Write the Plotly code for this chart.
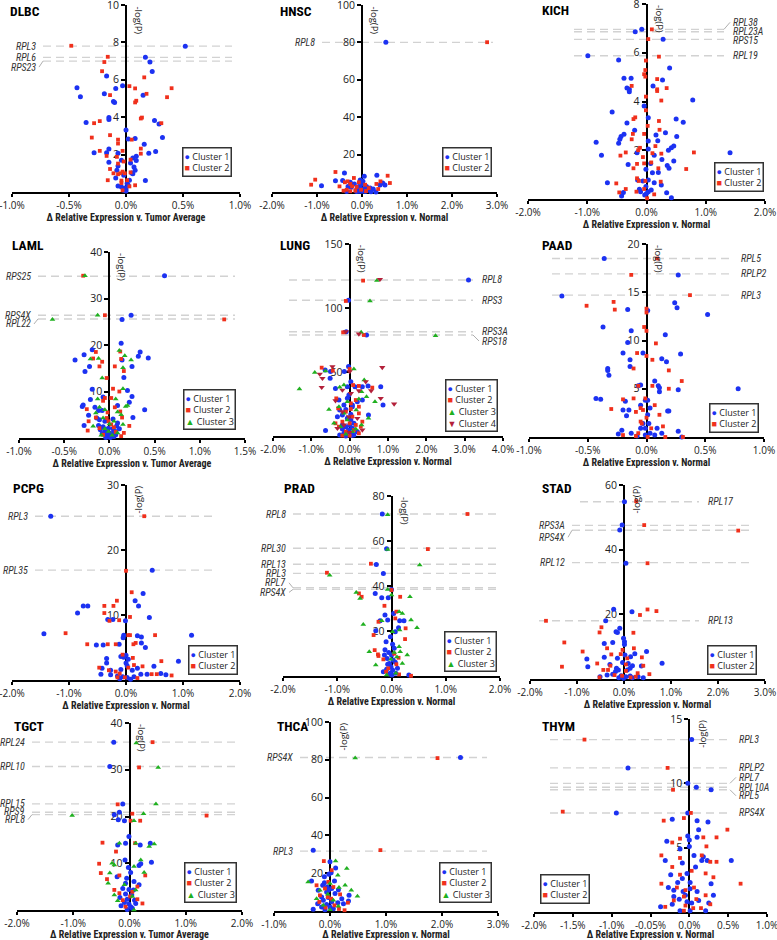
import plotly.graph_objects as go

W, H = 777, 940

# ---- data: (Δ relative expression in %, -log(P)) for every gene, per cluster ----
DLBC_C1 = [(0.52, 7.8), (0.17, 7.2), (0.21, 6.95), (0.23, 6.45), (-0.17, 6.2), (-0.43, 5.57), (-0.03, 5.68),
           (-0.09, 5.54), (-0.40, 5.1), (-0.19, 5.25), (0.15, 5.18), (-0.11, 4.84), (-0.10, 4.79), (-0.35, 3.71),
           (-0.15, 3.98), (-0.15, 3.88), (0.25, 3.82), (0.29, 3.64), (0.0, 3.32), (0.32, 2.91), (0.02, 2.84),
           (0.08, 2.86), (0.16, 2.55), (-0.15, 2.3), (-0.28, 2.1), (-0.17, 2.1), (0.20, 2.07), (0.26, 2.16),
           (-0.07, 2.07), (0.06, 1.82), (0.09, 1.91), (-0.15, 1.59), (0.04, 1.55), (0.09, 1.68), (-0.04, 1.7),
           (-0.07, 1.39), (0.07, 1.34), (0.08, 1.16), (0.05, 1.02), (-0.02, 0.89), (0.17, 0.61), (-0.09, 0.75),
           (0.01, 0.46), (-0.07, 0.32), (-0.04, 0.27), (-0.01, 0.21), (0.0, 0.16), (-0.02, 0.09), (0.02, 0.36),
           (0.03, 0.63), (0.06, 0.98), (-0.08, 1.16), (0.0, 0.05)]
DLBC_C2 = [(-0.48, 7.82), (-0.16, 7.23), (-0.19, 6.95), (-0.21, 6.46), (0.16, 6.13), (0.03, 5.66), (0.08, 5.54),
           (0.40, 5.55), (0.18, 5.25), (-0.14, 5.18), (0.36, 5.07), (0.09, 4.88), (0.08, 4.79), (0.14, 3.98),
           (0.13, 3.93), (-0.28, 3.68), (-0.23, 3.79), (0.31, 3.68), (-0.30, 2.91), (-0.14, 3.04), (-0.07, 2.8),
           (0.05, 2.8), (-0.07, 2.59), (0.13, 2.32), (-0.23, 2.2), (-0.03, 2.2), (-0.17, 1.93), (-0.08, 1.88),
           (0.13, 2.05), (0.04, 1.73), (-0.02, 1.63), (-0.07, 1.52), (-0.14, 1.23), (-0.03, 1.09), (-0.11, 1.0),
           (-0.07, 0.95), (-0.05, 1.0), (-0.01, 1.0), (0.04, 1.05), (-0.16, 0.63), (-0.04, 0.61), (0.08, 0.36),
           (-0.04, 0.48), (0.01, 0.63), (0.03, 0.3), (-0.03, 0.09)]

HNSC_C1 = [(0.53, 80.1), (-0.90, 3.4), (-0.59, 6.0), (-0.43, 6.2), (-0.39, 10.1), (-0.26, 5.2), (-0.23, 3.9),
           (-0.31, 3.0), (-0.17, 4.3), (-0.12, 1.2), (-0.07, 3.0), (-0.04, 6.4), (-0.03, 5.2), (0.01, 4.3),
           (0.05, 8.4), (0.06, 2.0), (0.10, 3.0), (0.18, 2.1), (0.25, 1.6), (0.33, 8.9), (0.40, 3.7), (0.46, 4.8),
           (0.51, 3.7), (0.31, 0.0), (0.03, 1.2), (-0.06, 0.4), (0.0, 0.4), (-0.12, 0.3), (0.07, 0.3), (-0.04, 2.1),
           (0.12, 0.9), (-0.34, 0.3), (-0.24, 2.5), (0.20, 0.2), (0.02, 5.7)]
HNSC_C2 = [(2.78, 80.1), (-1.13, 3.9), (-1.04, 6.6), (-0.59, 10.7), (-0.38, 5.2), (-0.32, 5.7), (-0.26, 4.3),
           (-0.50, 3.0), (-0.18, 7.5), (-0.22, 3.0), (-0.34, 1.2), (-0.12, 2.7), (-0.07, 5.2), (0.07, 3.9),
           (0.15, 2.1), (0.32, 4.3), (0.36, 1.6), (0.57, 8.7), (0.62, 4.8), (0.41, 5.7), (-0.02, 1.2), (-0.26, 0.4),
           (-0.41, 0.7), (-0.15, 0.7), (0.09, 0.5)]

KICH_C1 = [(-0.19, 6.86), (-0.08, 6.96), (0.28, 6.55), (-0.99, 5.88), (-0.47, 5.7), (0.39, 5.37), (-0.38, 4.95),
           (-0.26, 4.95), (-0.33, 4.55), (-0.29, 4.5), (-0.29, 4.4), (0.11, 4.64), (0.27, 4.88), (0.78, 4.06),
           (-0.04, 3.82), (-0.58, 3.57), (0.03, 3.33), (0.50, 3.28), (0.62, 3.15), (-0.33, 3.12), (-0.20, 2.82),
           (0.32, 2.72), (0.16, 2.63), (0.51, 2.56), (-0.38, 2.66), (-0.43, 2.56), (-0.45, 2.45), (-0.47, 2.29),
           (-0.85, 2.33), (0.03, 2.38), (0.19, 2.39), (0.46, 2.17), (0.42, 2.1), (0.37, 2.0), (0.03, 2.05),
           (-0.16, 1.9), (-0.76, 1.8), (0.13, 1.8), (1.41, 1.9), (0.26, 1.62), (0.46, 1.56), (-0.31, 1.42),
           (0.07, 1.46), (0.35, 1.37), (0.38, 1.26), (-0.01, 1.22), (0.10, 1.08), (0.20, 1.09), (-0.66, 0.67),
           (-0.15, 0.78), (0.03, 0.78), (-0.06, 0.74), (0.13, 0.67), (0.25, 0.57), (-0.01, 0.51), (-0.12, 0.4),
           (-0.10, 0.3), (-0.39, 0.27), (0.03, 0.3), (0.34, 0.26), (0.42, 0.05), (-0.42, 0.12), (-0.03, 0.16),
           (0.08, 0.37), (0.0, 0.23)]
KICH_C2 = [(0.09, 6.96), (0.03, 6.56), (0.21, 5.84), (-0.01, 5.68), (-0.02, 5.29), (-0.04, 5.12), (-0.02, 5.02),
           (0.18, 4.92), (-0.25, 4.64), (0.18, 4.5), (0.18, 4.43), (0.34, 4.55), (-0.01, 4.2), (0.25, 4.04),
           (-0.01, 3.64), (-0.19, 3.35), (-0.22, 3.28), (0.02, 3.0), (0.21, 3.2), (0.22, 2.84), (-0.23, 2.67),
           (-0.04, 2.67), (-0.25, 2.45), (0.15, 2.17), (-0.11, 2.1), (-0.14, 2.0), (-0.35, 1.91), (-0.44, 1.78),
           (0.80, 1.91), (0.10, 1.88), (0.25, 1.86), (-0.06, 1.72), (-0.16, 1.44), (-0.04, 1.46), (0.08, 1.5),
           (-0.22, 1.26), (0.20, 1.26), (0.67, 1.23), (-0.16, 0.85), (-0.13, 0.74), (-0.02, 0.74), (0.24, 0.71),
           (-0.51, 0.64), (-0.35, 0.41), (-0.46, 0.27), (-0.17, 0.3), (-0.04, 0.41), (0.13, 0.19), (0.01, 0.03)]

LAML_C1 = [(0.61, 34.9), (0.24, 26.4), (0.14, 25.5), (0.13, 20.4), (0.34, 18.5), (-0.19, 19.0), (0.32, 17.6),
           (0.43, 17.2), (-0.28, 17.9), (-0.38, 16.8), (0.14, 16.8), (-0.22, 15.4), (0.25, 15.4), (-0.27, 14.3),
           (0.16, 13.0), (-0.19, 10.5), (0.20, 10.2), (0.25, 8.9), (-0.21, 8.3), (0.22, 7.7), (-0.07, 8.8),
           (-0.29, 7.1), (-0.30, 6.8), (0.09, 7.0), (0.39, 6.1), (-0.16, 6.6), (-0.12, 5.9), (-0.08, 5.9),
           (-0.23, 4.9), (0.26, 4.4), (-0.14, 4.3), (-0.11, 3.9), (-0.05, 3.6), (0.04, 4.1), (0.09, 3.2),
           (-0.28, 2.7), (-0.12, 2.7), (-0.07, 2.4), (-0.01, 2.1), (0.04, 2.0), (0.08, 2.6), (-0.08, 0.9),
           (-0.05, 1.4), (-0.04, 1.9), (0.0, 1.1), (0.02, 0.7), (-0.02, 0.4), (0.04, 1.1), (0.07, 1.4),
           (-0.03, 0.9), (0.05, 0.3), (-0.04, 0.1), (0.01, 0.1), (0.07, 0.7), (-0.10, 1.8), (0.11, 2.0)]
LAML_C2 = [(-0.29, 34.9), (-0.05, 26.4), (1.27, 25.5), (0.12, 18.6), (-0.15, 18.5), (-0.18, 17.1), (0.13, 17.0),
           (-0.08, 16.4), (-0.11, 15.4), (0.16, 14.4), (0.06, 15.4), (-0.03, 12.9), (0.04, 10.6), (0.11, 10.0),
           (-0.05, 8.6), (0.02, 8.6), (-0.07, 8.0), (-0.25, 6.2), (0.06, 6.6), (0.12, 5.7), (-0.02, 5.5),
           (-0.15, 4.4), (-0.03, 4.3), (0.14, 4.4), (-0.23, 3.6), (-0.01, 3.6), (0.22, 2.6), (-0.24, 1.6),
           (-0.11, 2.1), (0.02, 2.9), (0.05, 2.3), (0.16, 1.1), (-0.07, 0.7), (0.07, 1.3), (0.13, 0.4)]
LAML_C3 = [(-0.27, 34.9), (-0.13, 26.4), (-0.63, 25.5), (0.11, 18.8), (-0.21, 17.0), (0.17, 17.7), (0.24, 16.8),
           (-0.12, 17.1), (0.15, 15.1), (-0.08, 12.9), (0.15, 10.6), (-0.13, 8.4), (0.07, 8.4), (0.18, 6.8),
           (0.20, 7.0), (-0.11, 6.6), (-0.05, 6.1), (0.09, 5.6), (-0.15, 5.4), (0.13, 5.0), (-0.07, 4.3),
           (0.05, 3.6), (0.0, 3.0), (0.15, 2.9), (-0.18, 2.5), (-0.05, 2.0), (0.09, 1.1), (-0.09, 0.6),
           (-0.01, 1.4), (0.03, 0.6)]

LUNG_C1 = [(3.10, 121.9), (-0.03, 106.0), (-0.09, 81.5), (0.44, 78.9), (-0.03, 54.2), (-0.64, 51.6),
           (-0.50, 50.3), (-0.14, 50.3), (-0.51, 45.1), (-0.37, 37.2), (-0.06, 38.5), (0.03, 42.4), (0.14, 38.5),
           (0.33, 38.5), (0.48, 39.1), (0.81, 38.5), (0.87, 24.2), (-0.28, 28.1), (-0.06, 29.4), (-0.15, 24.2),
           (0.07, 24.2), (0.20, 26.8), (0.33, 28.1), (-0.26, 20.3), (-0.10, 20.8), (0.03, 16.9), (0.49, 16.4),
           (-0.19, 16.4), (-0.06, 13.8), (0.03, 12.5), (-0.19, 8.6), (-0.10, 7.3), (0.0, 8.6), (0.11, 9.9),
           (-0.63, 4.2), (-0.03, 4.7), (0.07, 6.0), (0.20, 3.4), (-0.15, 2.1), (0.0, 1.3), (0.11, 0.8),
           (-0.26, 0.8), (-0.03, 3.4), (0.05, 0.3), (-0.10, 0.0), (-0.19, 5.5), (-0.32, 15.1), (0.07, 22.9),
           (-0.02, 32.0)]
LUNG_C2 = [(0.35, 121.4), (-0.10, 105.5), (-0.17, 81.0), (0.37, 78.9), (-0.73, 53.4), (-0.44, 51.0), (0.0, 52.3),
           (0.09, 39.8), (0.24, 39.1), (0.59, 37.8), (-0.35, 29.4), (0.16, 28.1), (0.03, 25.5), (0.24, 22.9),
           (-0.30, 21.6), (0.03, 21.1), (-0.10, 19.0), (0.24, 17.7), (0.07, 15.1), (0.33, 11.2), (-0.19, 11.2),
           (0.0, 9.9), (0.16, 8.6), (-0.28, 7.3), (0.11, 4.7), (-0.10, 3.4), (0.24, 2.1), (0.0, 0.3), (-0.19, 0.3),
           (0.29, 7.3), (-0.37, 9.9)]
LUNG_C3 = [(0.71, 121.4), (0.53, 105.5), (0.30, 81.0), (2.24, 78.4), (-0.91, 49.7), (-0.63, 50.8), (0.11, 52.3),
           (0.38, 43.7), (-1.31, 36.7), (-0.26, 38.0), (-0.15, 39.8), (0.31, 34.6), (0.66, 26.8), (0.44, 30.7),
           (-0.28, 22.9), (-0.06, 26.8), (0.24, 28.9), (-0.54, 20.8), (-0.15, 17.7), (0.17, 20.3), (0.49, 13.8),
           (-0.41, 9.9), (-0.06, 12.5), (0.31, 8.6), (-0.24, 7.3), (0.07, 3.4), (-0.10, 1.3), (0.16, 5.5)]
LUNG_C4 = [(0.79, 122.4), (-0.10, 81.5), (0.24, 79.7), (-0.45, 54.2), (-0.78, 48.4), (-0.71, 45.1), (0.85, 53.6),
           (0.0, 50.3), (-0.73, 38.0), (-0.19, 35.9), (0.42, 42.4), (0.56, 35.4), (1.16, 25.0), (0.81, 29.4),
           (-0.37, 27.6), (0.24, 35.4), (0.03, 33.3), (-0.19, 19.0), (0.20, 13.8), (-0.02, 15.1), (-0.32, 6.0),
           (0.33, 4.7), (0.0, 2.9), (-0.15, 8.6)]

PAAD_C1 = [(-0.36, 18.5), (0.27, 16.8), (-0.72, 14.6), (0.24, 13.9), (0.26, 13.4), (-0.16, 13.2), (0.01, 13.1),
           (0.52, 12.7), (-0.37, 11.4), (-0.13, 11.0), (0.16, 10.6), (-0.16, 9.8), (-0.20, 8.7), (-0.03, 8.7),
           (0.29, 8.6), (0.13, 8.1), (-0.14, 8.0), (0.17, 7.8), (-0.14, 7.3), (-0.33, 7.1), (-0.33, 6.9),
           (-0.32, 6.4), (0.07, 5.8), (0.10, 5.3), (0.11, 5.1), (0.78, 5.0), (0.27, 4.9), (-0.05, 5.4),
           (-0.07, 5.3), (0.11, 4.7), (-0.43, 4.0), (-0.39, 3.9), (-0.18, 3.7), (-0.05, 3.3), (-0.01, 3.8),
           (0.01, 3.8), (0.03, 3.0), (-0.20, 2.8), (-0.15, 2.8), (0.18, 2.7), (0.19, 2.7), (-0.17, 2.2),
           (0.01, 2.3), (0.02, 1.4), (-0.03, 1.4), (-0.05, 0.9), (-0.01, 0.9), (0.09, 0.9), (0.27, 0.6),
           (-0.21, 0.7), (-0.24, 0.3), (-0.13, 0.4), (-0.08, 0.1), (0.03, 0.4), (0.07, 0.2), (0.13, 0.4),
           (0.30, 0.0), (-0.01, 0.2)]
PAAD_C2 = [(0.09, 18.5), (-0.13, 16.8), (0.37, 14.7), (-0.51, 13.6), (-0.28, 14.0), (-0.27, 13.2), (0.0, 13.3),
           (0.0, 12.9), (-0.02, 11.4), (0.0, 11.0), (0.08, 9.7), (-0.08, 8.7), (0.0, 8.4), (0.05, 8.0),
           (-0.11, 7.1), (0.19, 6.9), (0.30, 5.8), (-0.07, 5.3), (0.05, 5.3), (0.19, 5.0), (-0.11, 4.0),
           (-0.20, 3.9), (-0.01, 4.0), (-0.30, 2.9), (0.07, 3.3), (-0.05, 3.0), (-0.03, 2.8), (-0.09, 2.6),
           (0.11, 2.3), (0.0, 2.0), (-0.05, 1.6), (-0.04, 1.4), (0.14, 1.1), (0.04, 0.9), (-0.20, 0.2),
           (-0.07, 0.4), (0.01, 0.0), (0.16, 0.0), (0.31, 0.0), (-0.09, 0.1)]

PCPG_C1 = [(-1.32, 25.2), (0.46, 16.9), (0.30, 13.3), (0.16, 12.2), (0.22, 11.4), (-0.75, 11.4), (-0.67, 11.4),
           (-0.85, 10.3), (-0.32, 9.3), (-0.23, 9.3), (-0.01, 9.1), (0.41, 9.6), (-1.44, 7.1), (1.15, 6.9),
           (-0.04, 6.9), (0.20, 6.8), (-0.05, 6.5), (0.27, 6.6), (0.27, 5.7), (0.34, 5.0), (-0.52, 5.4),
           (-0.40, 5.4), (-0.12, 5.5), (-0.09, 3.6), (0.0, 3.8), (-0.04, 3.5), (0.04, 3.2), (-0.34, 3.3),
           (0.92, 2.9), (0.49, 2.1), (-0.34, 2.6), (-0.42, 1.8), (-0.27, 1.5), (0.0, 2.6), (0.02, 2.2),
           (-0.09, 1.6), (0.11, 1.5), (0.20, 1.8), (-0.44, 0.9), (-0.27, 0.8), (-0.15, 0.6), (0.26, 0.9),
           (0.37, 0.9), (0.61, 1.0), (0.70, 0.8), (-0.06, 0.5), (0.02, 0.4), (0.14, 0.5), (-0.11, 0.2),
           (0.08, 0.1)]
PCPG_C2 = [(0.32, 25.2), (0.0, 16.8), (0.10, 13.5), (-0.16, 12.2), (-0.38, 11.4), (-0.22, 11.4), (-0.38, 10.3),
           (-0.29, 9.1), (-0.12, 9.2), (0.07, 9.7), (-1.06, 7.2), (0.04, 6.9), (0.07, 6.9), (0.51, 6.9),
           (0.17, 5.7), (0.13, 5.5), (-0.68, 5.5), (-0.32, 5.5), (-0.18, 5.5), (-0.06, 3.9), (0.12, 3.4),
           (0.29, 2.1), (0.62, 2.9), (-0.47, 1.9), (-0.30, 1.5), (-0.18, 1.3), (0.04, 1.9), (0.14, 2.3),
           (-0.11, 1.0), (0.45, 0.9), (0.54, 0.9), (0.80, 0.7), (-0.15, 0.4), (-0.02, 0.4), (0.20, 0.3)]

PRAD_C1 = [(-0.17, 72.0), (-0.09, 56.6), (-0.28, 49.6), (-0.15, 45.6), (0.0, 38.5), (-0.30, 36.7), (-0.18, 34.8),
           (-0.06, 34.8), (0.04, 27.8), (-0.12, 27.1), (-0.21, 24.6), (-0.07, 24.9), (0.15, 24.6), (0.23, 24.6),
           (0.13, 21.4), (-0.29, 20.1), (0.07, 19.7), (-0.02, 17.5), (-0.10, 15.2), (0.02, 14.1), (-0.12, 11.7),
           (-0.05, 10.4), (0.0, 9.3), (-0.08, 7.8), (0.03, 7.1), (-0.04, 5.6), (0.07, 6.1), (-0.01, 4.1),
           (-0.09, 3.0), (0.02, 2.7), (0.08, 1.2), (-0.04, 0.9), (-0.15, 1.9), (0.32, 0.4), (0.01, 0.4),
           (-0.07, 5.2), (0.11, 3.4), (-0.13, 9.3), (0.05, 12.3), (-0.02, 1.2)]
PRAD_C2 = [(1.40, 72.0), (0.67, 56.4), (-0.38, 49.9), (-1.19, 45.9), (-0.60, 36.7), (-0.55, 35.2), (0.0, 38.2),
           (0.16, 35.2), (-0.13, 31.2), (0.09, 28.6), (-0.24, 24.1), (0.07, 25.6), (0.26, 21.2), (-0.33, 18.2),
           (0.25, 16.4), (-0.31, 11.5), (-0.25, 9.6), (-0.24, 8.9), (-0.15, 7.4), (0.13, 8.1), (0.09, 5.2),
           (-0.10, 1.9), (0.14, 0.7), (0.36, 0.1), (-0.06, 3.4), (0.05, 9.9)]
PRAD_C3 = [(-0.07, 71.7), (-0.07, 56.2), (0.52, 49.3), (-1.14, 44.8), (-0.07, 38.5), (-0.65, 37.1), (-0.58, 34.5),
           (0.34, 35.2), (0.0, 36.0), (0.14, 28.6), (0.20, 27.8), (-0.18, 24.6), (0.36, 24.9), (-0.52, 22.9),
           (0.47, 21.4), (0.15, 20.4), (0.02, 19.7), (-0.41, 10.8), (0.05, 10.5), (0.14, 13.0), (0.29, 9.3),
           (0.16, 10.8), (-0.29, 4.9), (0.20, 5.6), (0.08, 1.2), (-0.09, 0.4), (-0.01, 7.5), (0.10, 8.5)]

STAD_C1 = [(0.01, 54.8), (-0.04, 47.6), (-0.09, 46.1), (0.04, 35.8), (-0.22, 21.6), (0.17, 20.8), (-0.39, 18.0),
           (-0.09, 15.7), (-0.17, 14.6), (-0.14, 14.4), (-0.01, 12.6), (0.01, 11.5), (-0.24, 11.3), (-0.42, 11.0),
           (0.01, 10.7), (0.48, 8.5), (0.23, 7.8), (0.02, 7.4), (-0.79, 6.2), (-0.42, 6.7), (-0.14, 6.4),
           (0.14, 6.9), (-0.77, 3.8), (-0.03, 5.1), (0.09, 4.8), (0.18, 4.1), (0.81, 4.9), (0.37, 4.0),
           (-0.18, 2.3), (-0.12, 2.8), (0.07, 2.8), (-0.36, 1.2), (-0.24, 1.5), (-0.06, 1.0), (0.04, 0.7),
           (0.13, 0.9), (0.30, 0.7), (0.41, 0.4), (-0.51, 0.7), (-0.11, 0.4), (-0.01, 0.2), (0.18, 0.4),
           (-0.16, 3.3), (-0.30, 4.5), (0.13, 3.3)]
STAD_C2 = [(0.26, 55.0), (0.43, 47.6), (2.43, 45.9), (0.50, 35.8), (-1.66, 18.0), (0.50, 21.5), (0.69, 21.0),
           (0.34, 19.8), (-0.48, 16.0), (-0.52, 14.4), (0.20, 14.3), (-1.27, 11.3), (-0.36, 9.5), (-0.88, 8.5),
           (-0.03, 9.0), (0.21, 9.5), (-0.27, 7.6), (-0.07, 7.7), (0.38, 6.7), (-1.32, 3.8), (-0.57, 4.8),
           (-0.29, 4.1), (0.04, 4.5), (0.41, 4.1), (0.04, 2.5), (-0.34, 2.8), (0.29, 1.8), (0.54, 1.5),
           (-0.52, 0.5), (-0.20, 1.2), (-0.04, 1.0), (0.14, 0.5), (0.25, 0.7), (0.07, 6.4), (-0.44, 2.8)]

TGCT_C1 = [(-0.28, 35.9), (-0.35, 30.7), (-0.12, 22.7), (-0.18, 20.9), (-0.27, 20.4), (-0.20, 19.3), (-0.09, 19.1),
           (-0.01, 15.7), (-0.07, 14.3), (-0.21, 13.9), (0.19, 13.9), (0.37, 14.3), (-0.08, 10.7), (0.39, 10.2),
           (0.17, 9.5), (0.20, 9.9), (-0.02, 9.1), (0.02, 8.0), (-0.22, 7.1), (-0.05, 6.8), (-0.07, 5.7),
           (0.08, 6.1), (0.17, 5.4), (-0.12, 4.6), (-0.01, 4.4), (0.07, 4.3), (-0.07, 3.4), (0.04, 3.2),
           (-0.17, 2.7), (-0.04, 2.3), (0.09, 2.1), (-0.09, 1.6), (-0.01, 1.3), (0.02, 0.7), (-0.04, 0.1),
           (0.05, 0.4), (-0.15, 0.9), (0.11, 1.4)]
TGCT_C2 = [(0.41, 35.9), (0.17, 30.5), (-0.21, 22.6), (0.05, 20.6), (1.37, 20.2), (0.02, 19.1), (0.19, 19.1),
           (-0.48, 14.4), (-0.24, 12.5), (0.10, 14.3), (-0.54, 9.9), (-0.51, 7.9), (-0.18, 7.4), (0.28, 7.4),
           (-0.40, 6.6), (0.14, 5.0), (-0.27, 4.3), (-0.18, 3.6), (0.05, 3.9), (0.23, 1.4), (-0.12, 2.1),
           (0.14, 2.3), (0.01, 2.9), (-0.07, 0.7)]
TGCT_C3 = [(0.12, 35.7), (0.51, 30.5), (0.47, 22.7), (-1.02, 20.2), (0.25, 20.6), (0.08, 19.1), (-0.18, 14.3),
           (0.11, 14.3), (0.44, 14.1), (0.35, 13.6), (0.20, 10.7), (-0.31, 10.0), (-0.27, 9.6), (0.08, 9.3),
           (-0.35, 7.9), (0.26, 8.0), (-0.38, 5.7), (-0.09, 5.4), (0.11, 4.3), (-0.27, 3.2), (0.05, 2.9),
           (-0.21, 2.0), (0.08, 0.0)]

THCA_C1 = [(2.33, 81.2), (-0.30, 32.2), (0.0, 26.0), (0.10, 22.8), (0.02, 20.2), (-0.02, 19.5), (-0.33, 15.9),
           (-0.10, 14.9), (0.08, 15.9), (-0.13, 13.6), (-0.05, 12.7), (0.03, 11.9), (0.15, 11.3), (-0.21, 11.0),
           (-0.06, 10.1), (0.09, 9.2), (0.34, 8.3), (-0.15, 7.4), (-0.03, 7.1), (0.21, 6.5), (-0.12, 5.7),
           (0.03, 4.8), (0.14, 4.4), (-0.22, 3.9), (-0.06, 3.4), (0.24, 3.9), (0.0, 2.1), (-0.15, 2.1),
           (-0.30, 0.9), (-0.09, 0.7), (0.06, 1.2), (0.33, 5.3), (-0.03, 11.0), (-0.10, 18.1)]
THCA_C2 = [(1.92, 80.9), (0.90, 32.2), (-0.11, 26.4), (0.03, 21.6), (-0.24, 13.6), (-0.03, 15.4), (-0.09, 11.9),
           (0.06, 12.7), (-0.18, 8.3), (0.18, 8.8), (0.02, 6.5), (-0.19, 4.8), (0.32, 4.4), (0.08, 3.0),
           (-0.08, 1.8), (0.16, 1.1), (0.26, 0.4), (-0.04, 7.4)]
THCA_C3 = [(0.45, 80.9), (0.10, 26.4), (0.30, 22.5), (0.14, 18.9), (-0.39, 15.4), (0.0, 14.5), (0.27, 13.6),
           (0.16, 12.4), (0.38, 11.0), (0.49, 7.8), (-0.18, 11.0), (-0.24, 6.5), (-0.04, 8.8), (0.06, 5.7),
           (-0.12, 3.0), (0.15, 2.5), (0.0, 0.7)]

THYM_C1 = [(0.03, 13.4), (-0.79, 11.2), (-0.02, 10.0), (0.09, 9.7), (0.28, 9.5), (-0.94, 7.7), (-0.02, 7.7),
           (-0.22, 7.2), (0.10, 7.1), (0.24, 7.0), (0.12, 6.4), (-0.02, 5.9), (0.10, 5.8), (0.0, 5.6),
           (-0.29, 5.5), (0.0, 5.1), (-0.12, 4.9), (0.06, 4.4), (0.18, 4.3), (-0.31, 4.0), (0.16, 4.0),
           (0.54, 4.0), (0.23, 4.0), (-0.09, 3.8), (0.08, 3.5), (-0.03, 3.0), (-0.24, 2.9), (-0.09, 2.6),
           (0.01, 2.3), (-0.15, 2.3), (0.28, 2.2), (-0.27, 1.9), (-0.20, 1.7), (-0.08, 1.6), (0.01, 1.8),
           (0.10, 1.6), (0.31, 1.3), (-0.37, 0.4), (-0.22, 0.6), (-0.13, 1.0), (-0.03, 0.8), (0.03, 0.7),
           (0.12, 0.9), (0.25, 0.7), (-0.12, 0.1), (0.01, 0.1), (0.21, 0.1), (-0.05, 1.3), (-0.20, 1.2)]
THYM_C2 = [(-1.35, 13.4), (-0.28, 11.2), (-0.21, 9.5), (-1.63, 7.8), (0.02, 7.7), (-0.07, 7.3), (-0.33, 7.1),
           (0.49, 6.4), (-0.12, 5.7), (-0.22, 5.4), (0.18, 5.8), (0.35, 5.8), (0.22, 5.1), (-0.36, 4.4),
           (-0.12, 4.2), (0.16, 4.4), (0.27, 3.9), (0.35, 3.9), (-0.22, 3.5), (0.03, 3.2), (0.21, 3.0),
           (0.31, 2.7), (-0.12, 2.9), (-0.36, 2.2), (0.66, 2.2), (0.06, 1.9), (-0.16, 1.9), (-0.05, 1.7),
           (0.21, 1.3), (-0.20, 0.9), (-0.07, 1.2), (0.09, 1.0), (0.27, 0.6), (-0.31, 0.4), (-0.05, 0.5),
           (0.05, 0.3), (-0.07, 0.1), (0.15, 0.3)]

# ---- labelled genes and their -log(P) ----
DLBC_GENES, DLBC_P = ['RPL3', 'RPL6', 'RPS23'], [7.8, 7.2, 7.0]
HNSC_GENES, HNSC_P = ['RPL8'], [80]
KICH_GENES, KICH_P = ['RPL38', 'RPL23A', 'RPS15', 'RPL19'], [6.96, 6.86, 6.55, 5.88]
LAML_GENES, LAML_P = ['RPS25', 'RPS4X', 'RPL22'], [34.8, 26.4, 25.6]
LUNG_GENES, LUNG_P = ['RPL8', 'RPS3', 'RPS3A', 'RPS18'], [121.9, 106, 81.5, 78.9]
PAAD_GENES, PAAD_P = ['RPL5', 'RPLP2', 'RPL3'], [18.5, 16.9, 14.7]
PCPG_GENES, PCPG_P = ['RPL3', 'RPL35'], [25.2, 16.9]
PRAD_GENES, PRAD_P = ['RPL8', 'RPL30', 'RPL13', 'RPL3', 'RPL7', 'RPS4X'], [72, 56.8, 49.7, 45.6, 39.2, 38.5]
STAD_GENES, STAD_P = ['RPL17', 'RPS3A', 'RPS4X', 'RPL12', 'RPL13'], [54.8, 47.5, 46.0, 36.0, 18.0]
TGCT_GENES, TGCT_P = ['RPL24', 'RPL10', 'RPL15', 'RPS9', 'RPL8'], [35.9, 30.7, 22.7, 20.9, 20.4]
THCA_GENES, THCA_P = ['RPS4X', 'RPL3'], [81.2, 31.7]
THYM_GENES, THYM_P = ['RPL3', 'RPLP2', 'RPL7', 'RPL10A', 'RPL5', 'RPS4X'], [13.4, 11.2, 10.0, 9.7, 9.5, 7.7]

# ---- axis ticks ----
XT_DLBC = [-1.0, -0.5, 0.0, 0.5, 1.0]
XT_HNSC = [-2, -1, 0, 1, 2, 3]
XT_KICH = [-2, -1, 0, 1, 2]
XT_LAML = [-1.0, -0.5, 0.0, 0.5, 1.0, 1.5]
XT_LUNG = [-2, -1, 0, 1, 2, 3, 4]
XT_THCA = [-1, 0, 1, 2, 3]
XT_THYM = [-2.0, -1.5, -1.0, -0.5, 0.0, 0.5, 1.0]
XT_THYM_TEXT = ['-2.0%', '-1.5%', '-1.0%', '-0.05%', '0.0%', '0.5%', '1.0%']

TUMOR = 'Δ Relative Expression v. Tumor Average'
NORMAL = 'Δ Relative Expression v. Normal'

CLUSTERS = [
    dict(name='Cluster 1', symbol='circle', color='#1c32f2', size=5, glyph='●'),
    dict(name='Cluster 2', symbol='square', color='#f0301c', size=3.8, glyph='■'),
    dict(name='Cluster 3', symbol='triangle-up', color='#20b020', size=5, glyph='▲'),
    dict(name='Cluster 4', symbol='triangle-down', color='#b3203a', size=5.5, glyph='▼'),
]

# box = (left, right, top, bottom) in pixels; lab = label side per gene; ln = dashed line x-extent (px)
PANELS = [
    dict(name='DLBC', box=(12, 240, 5, 192), xr=(-1, 1), xt=XT_DLBC, yr=10, yt=[2, 4, 6, 8, 10], xtitle=TUMOR,
         rot=90, data=[DLBC_C1, DLBC_C2], genes=DLBC_GENES, gp=DLBC_P, lab='LLL', ln=(43, 232),
         shift={'RPS23': 6}, leg=(232, 177, 'right'), title=(8, 11)),
    dict(name='HNSC', box=(272, 497, 5, 192), xr=(-2, 3), xt=XT_HNSC, yr=100, yt=[20, 40, 60, 80, 100],
         xtitle=NORMAL, rot=90, data=[HNSC_C1, HNSC_C2], genes=HNSC_GENES, gp=HNSC_P, lab='L', ln=(322, 493),
         shift={}, leg=(492, 177, 'right'), title=(278, 11)),
    dict(name='KICH', box=(528, 765, 4, 199), xr=(-2, 2), xt=XT_KICH, yr=8, yt=[2, 4, 6, 8], xtitle=NORMAL,
         rot=90, data=[KICH_C1, KICH_C2], genes=KICH_GENES, gp=KICH_P, lab='RRRR', ln=(574, 724),
         shift={'RPL38': -7, 'RPS15': 1}, leg=(764, 192, 'right'), title=(540, 10)),
    dict(name='LAML', box=(19, 245, 252, 438), xr=(-1, 1.5), xt=XT_LAML, yr=40, yt=[10, 20, 30, 40],
         xtitle=TUMOR, rot=90, data=[LAML_C1, LAML_C2, LAML_C3], genes=LAML_GENES, gp=LAML_P, lab='LLL',
         ln=(38, 235), shift={'RPL22': 5}, leg=(236, 430, 'right'), title=(10, 245)),
    dict(name='LUNG', box=(273, 503, 244, 436), xr=(-2, 4), xt=XT_LUNG, yr=150, yt=[50, 100, 150],
         xtitle=NORMAL, rot=90, data=[LUNG_C1, LUNG_C2, LUNG_C3, LUNG_C4], genes=LUNG_GENES, gp=LUNG_P,
         lab='RRRR', ln=(289, 473), shift={'RPS18': 6}, leg=(498, 432, 'right'), title=(278, 245)),
    dict(name='PAAD', box=(529, 764, 244, 437), xr=(-1, 1), xt=XT_DLBC, yr=20, yt=[5, 10, 15, 20],
         xtitle=NORMAL, rot=90, data=[PAAD_C1, PAAD_C2], genes=PAAD_GENES, gp=PAAD_P, lab='RRR', ln=(552, 732),
         shift={}, leg=(759, 433, 'right'), title=(540, 245)),
    dict(name='PCPG', box=(12, 240, 485, 680), xr=(-2, 2), xt=XT_KICH, yr=30, yt=[10, 20, 30], xtitle=NORMAL,
         rot=-90, data=[PCPG_C1, PCPG_C2], genes=PCPG_GENES, gp=PCPG_P, lab='LL', ln=(35, 216),
         shift={}, leg=(238, 675, 'right'), title=(11, 488)),
    dict(name='PRAD', box=(283, 500, 496, 676), xr=(-2, 2), xt=XT_KICH, yr=80, yt=[20, 40, 60, 80],
         xtitle=NORMAL, rot=90, data=[PRAD_C1, PRAD_C2, PRAD_C3], genes=PRAD_GENES, gp=PRAD_P, lab='LLLLLL',
         ln=(293, 501), shift={'RPL7': -5, 'RPS4X': 3}, leg=(497, 672, 'right'), title=(282, 488)),
    dict(name='STAD', box=(530, 765, 485, 679), xr=(-2, 3), xt=XT_HNSC, yr=60, yt=[20, 40, 60], xtitle=NORMAL,
         rot=-90, data=[STAD_C1, STAD_C2], genes=STAD_GENES, gp=STAD_P, lab='RLLLR',
         ln=[(580, 699), (572, 752), (572, 752), (572, 752), (539, 699)], shift={'RPS4X': 7},
         leg=(757, 675, 'right'), title=(540, 488)),
    dict(name='TGCT', box=(17, 242, 723, 910), xr=(-2, 2), xt=XT_KICH, yr=40, yt=[10, 20, 30, 40],
         xtitle=TUMOR, rot=90, data=[TGCT_C1, TGCT_C2, TGCT_C3], genes=TGCT_GENES, gp=TGCT_P, lab='LLLLL',
         ln=(32, 235), shift={'RPL8': 5, 'RPS9': -1}, leg=(237, 903, 'right'), title=(12, 726)),
    dict(name='THCA', box=(274, 498, 722, 911), xr=(-1, 3), xt=XT_THCA, yr=100, yt=[20, 40, 60, 80, 100],
         xtitle=NORMAL, rot=-90, data=[THCA_C1, THCA_C2, THCA_C3], genes=THCA_GENES, gp=THCA_P, lab='LL',
         ln=(300, 487), shift={}, leg=(492, 903, 'right'), title=(275, 726)),
    dict(name='THYM', box=(534, 767, 719, 912), xr=(-2, 1), xt=XT_THYM, xtt=XT_THYM_TEXT, yr=15, yt=[5, 10, 15],
         xtitle=NORMAL, rot=-90, data=[THYM_C1, THYM_C2], genes=THYM_GENES, gp=THYM_P, lab='RRRRRR',
         ln=(550, 730), shift={'RPL7': -6, 'RPL5': 6}, leg=(540, 904, 'left'), title=(540, 726)),
]

FONT = 'Open Sans'
NARROW = 'Liberation Sans Narrow, Roboto Condensed, Open Sans'
fig = go.Figure()
annotations, shapes = [], []

for i, p in enumerate(PANELS):
    k = '' if i == 0 else str(i + 1)
    left, right, top, bottom = p['box']
    x0r, x1r = p['xr']
    zero_px = left + (0 - x0r) / (x1r - x0r) * (right - left)
    ppu = (bottom - top) / p['yr']   # pixels per y unit

    for series, cs in zip(p['data'], CLUSTERS):
        fig.add_trace(go.Scatter(
            x=[v[0] for v in series], y=[v[1] for v in series], mode='markers',
            xaxis='x' + k, yaxis='y' + k, name=cs['name'], cliponaxis=False, showlegend=False,
            marker=dict(symbol=cs['symbol'], color=cs['color'], size=cs['size'], line=dict(width=0)),
        ))

    ttext = p.get('xtt', [f'{v:.1f}%' for v in p['xt']])
    fig.layout['xaxis' + k] = dict(
        domain=[left / W, right / W], anchor='y' + k, range=list(p['xr']), automargin=False,
        ticklabeloverflow='allow', tickvals=p['xt'], ticktext=ttext, showline=True, linecolor='black',
        linewidth=2, ticks='outside', ticklen=3, tickwidth=1.5, tickcolor='black', showgrid=False,
        zeroline=False, tickfont=dict(family=FONT, size=10, color='#222'),
        title=dict(text=p['xtitle'], standoff=1, font=dict(family=NARROW, size=10, color='#222', weight=700)),
        layer='below traces',
    )
    fig.layout['yaxis' + k] = dict(
        domain=[1 - bottom / H, 1 - top / H], anchor='free', position=zero_px / W, range=[0, p['yr']],
        automargin=False, ticklabeloverflow='allow', tickvals=p['yt'], showline=True, linecolor='black',
        linewidth=2, ticks='outside', ticklen=4, tickwidth=1.5, tickcolor='black', showgrid=False,
        zeroline=False, tickfont=dict(family=FONT, size=10.5, color='#222'), layer='below traces',
    )

    # panel name
    tx, ty = p['title']
    annotations.append(dict(text=f'<b>{p["name"]}</b>', x=tx / W, y=1 - ty / H, xref='paper', yref='paper',
                            xanchor='left', yanchor='middle', showarrow=False,
                            font=dict(family=NARROW, size=13.5, color='black')))
    # -log(P) axis label
    annotations.append(dict(text='-log(P)', x=(zero_px + 4) / W, y=1 - (top - 1) / H, xref='paper',
                            yref='paper', xanchor='left', yanchor='top', showarrow=False, textangle=p['rot'],
                            font=dict(family=FONT, size=9.5, color='#222')))

    # gene reference lines and labels
    for j, (g, gp) in enumerate(zip(p['genes'], p['gp'])):
        lx0, lx1 = p['ln'][j] if isinstance(p['ln'], list) else p['ln']
        side = p['lab'][j]
        shapes.append(dict(type='line', xref='paper', yref='y' + k, x0=lx0 / W, x1=lx1 / W, y0=gp, y1=gp,
                           line=dict(color='#d2d2d2', width=1.4, dash='8px,5px'), layer='below'))
        sh = p['shift'].get(g, 0)
        if side == 'L':
            ax_px, anchor, lead = lx0 - 5, 'right', lx0
        else:
            ax_px, anchor, lead = lx1 + 7, 'left', lx1
        if abs(sh) > 2:
            shapes.append(dict(type='line', xref='paper', yref='y' + k, x0=lead / W, y0=gp,
                               x1=(ax_px + (1 if side == 'L' else -1)) / W, y1=gp - sh / ppu,
                               line=dict(color='#999', width=0.8), layer='below'))
        annotations.append(dict(text=f'<i>{g}</i>', x=ax_px / W, y=gp, xref='paper', yref='y' + k,
                                xanchor=anchor, yanchor='middle', yshift=-sh, showarrow=False,
                                font=dict(family=NARROW, size=10, color='#333')))

    # legend box
    lines = [f'<span style="color:{cs["color"]}">{cs["glyph"]}</span> {cs["name"]}'
             for cs in CLUSTERS[:len(p['data'])]]
    lxp, lyp, lside = p['leg']
    annotations.append(dict(text='<br>'.join(lines), x=lxp / W, y=1 - lyp / H, xref='paper', yref='paper',
                            xanchor=lside, yanchor='bottom', align='left', showarrow=False,
                            bordercolor='#333', borderwidth=1.5, borderpad=1, bgcolor='white',
                            font=dict(family=FONT, size=9, color='#222')))

fig.update_layout(
    width=W, height=H, margin=dict(l=0, r=0, t=0, b=0, autoexpand=False),
    plot_bgcolor='white', paper_bgcolor='white', showlegend=False,
    annotations=annotations, shapes=shapes,
)

fig.write_html('out.html', config={'displayModeBar': False},
               post_script="document.body.style.margin = '0px';")
